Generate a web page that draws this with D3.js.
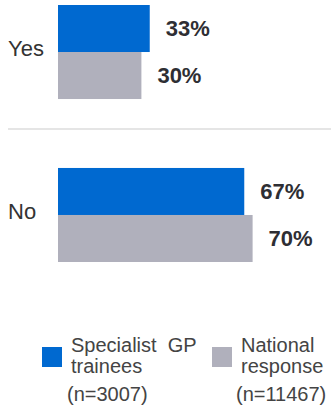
<!DOCTYPE html>
<html><head><meta charset="utf-8">
<script src="https://cdn.jsdelivr.net/npm/d3@7/dist/d3.min.js"></script>
<style>
html,body{margin:0;padding:0;background:#fff;}
svg{display:block;font-family:"Liberation Sans",Arial,sans-serif;}
</style></head>
<body>
<svg id="chart" width="331" height="409"></svg>
<script>
const categories = ["Yes", "No"];
const seriesNames = ["Specialist GP trainees", "National response"];
const trainees = [33, 67];
const national = [30, 70];
const legendLines = [["Specialist  GP", "trainees", "(n=3007)"], ["National", "response", "(n=11467)"]];
const colors = ["#0069D0", "#B0B0BC"];

const svg = d3.select("#chart");
const values = [trainees, national];

const x = d3.scaleLinear().domain([0, 100]).range([58, 336]);
const y = d3.scaleBand().domain(categories).range([5, 262]).paddingInner(0.423).paddingOuter(0);
const ySub = d3.scaleBand().domain(seriesNames).range([0, y.bandwidth()]);

// separator
const sepY = y("Yes") + y.bandwidth() + 30;
svg.append("line").attr("x1", 8).attr("x2", 331).attr("y1", sepY).attr("y2", sepY)
  .attr("stroke", "#dcdcdc").attr("stroke-width", 1.5);

categories.forEach((cat, ci) => {
  const g = svg.append("g").attr("transform", `translate(0,${y(cat)})`);
  g.append("text").attr("x", 8).attr("y", y.bandwidth() / 2 - 4)
    .attr("dy", "0.35em").attr("font-size", 22).attr("fill", "#333")
    .text(cat);
  seriesNames.forEach((s, si) => {
    const v = values[si][ci];
    g.append("rect").attr("x", x(0)).attr("y", ySub(s))
      .attr("width", x(v) - x(0)).attr("height", ySub.bandwidth())
      .attr("fill", colors[si]);
    g.append("text").attr("x", x(v) + 16).attr("y", ySub(s) + ySub.bandwidth() / 2)
      .attr("dy", "0.35em").attr("font-size", 22).attr("font-weight", "bold")
      .attr("fill", "#2e2e33").text(v + "%");
  });
});

// legend
const legX = [42, 212];
const textX = [[71, 71, 67], [241, 241, 236]];
seriesNames.forEach((s, i) => {
  svg.append("rect").attr("x", legX[i]).attr("y", 347).attr("width", 20).attr("height", 20)
    .attr("fill", colors[i]);
  const baselines = [352, 373, 401];
  legendLines[i].forEach((t, j) => {
    svg.append("text").attr("x", textX[i][j]).attr("y", baselines[j])
      .attr("font-size", 20).attr("fill", "#444").attr("xml:space", "preserve")
      .style("white-space", "pre").text(t);
  });
});
</script>
</body></html>
